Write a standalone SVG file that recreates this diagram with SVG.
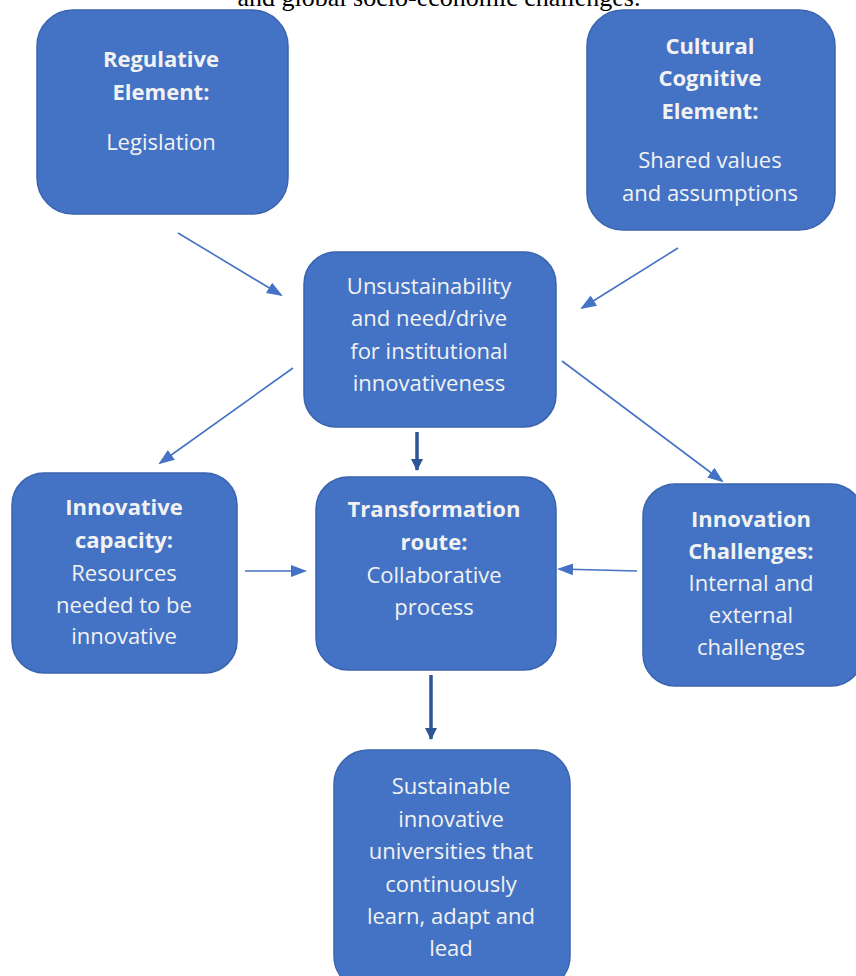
<svg xmlns="http://www.w3.org/2000/svg" width="856" height="976" viewBox="0 0 856 976">
<style>
.box{fill:#4472C4;stroke:#3A64AE;stroke-width:1.5}
.t{font-family:"Open Sans","Liberation Sans",sans-serif;font-size:22px;fill:#F2F2F2;text-anchor:middle}
.b{font-weight:bold}
.thin{stroke:#4472C4;stroke-width:1.6;fill:none}
.thick{stroke:#2F5597;stroke-width:3.5;fill:none}
</style>
<defs>
<marker id="ah2" viewBox="0 0 16 16" refX="14" refY="8" markerWidth="16" markerHeight="16" markerUnits="userSpaceOnUse" orient="auto"><path d="M0,2 L16,8 L0,14 z" fill="#4472C4"/></marker>
<marker id="ahd" viewBox="0 0 12 12" refX="11" refY="6" markerWidth="12" markerHeight="12" markerUnits="userSpaceOnUse" orient="auto"><path d="M0,0 L12,6 L0,12 z" fill="#2F5597"/></marker>
</defs>
<text x="439" y="6" font-family="Liberation Serif, serif" font-size="26" text-anchor="middle" fill="#000">and global socio-economic challenges.</text>
<g id="connectors">
<line class="thin" x1="178" y1="233" x2="281" y2="295" marker-end="url(#ah2)"/>
<line class="thin" x1="678" y1="248" x2="582" y2="308" marker-end="url(#ah2)"/>
<line class="thin" x1="293" y1="368" x2="160" y2="463" marker-end="url(#ah2)"/>
<line class="thin" x1="562" y1="361" x2="722" y2="481" marker-end="url(#ah2)"/>
<line class="thin" x1="245" y1="571" x2="305" y2="571" marker-end="url(#ah2)"/>
<line class="thin" x1="637" y1="571" x2="559" y2="569" marker-end="url(#ah2)"/>
<line class="thick" x1="417" y1="432" x2="417" y2="470" marker-end="url(#ahd)"/>
<line class="thick" x1="431" y1="675" x2="431" y2="739" marker-end="url(#ahd)"/>
</g>
<g id="regulative">
<rect class="box" x="37" y="10" width="251" height="204" rx="36"/>
<text class="t b" x="161" y="67">Regulative</text>
<text class="t b" x="161" y="100">Element:</text>
<text class="t" x="161" y="150">Legislation</text>
</g>
<g id="cultural">
<rect class="box" x="587" y="10" width="248" height="220" rx="36"/>
<text class="t b" x="710" y="54">Cultural</text>
<text class="t b" x="710" y="86">Cognitive</text>
<text class="t b" x="710" y="119">Element:</text>
<text class="t" x="710" y="168">Shared values</text>
<text class="t" x="710" y="201">and assumptions</text>
</g>
<g id="unsustainability">
<rect class="box" x="304" y="252" width="252" height="175" rx="32"/>
<text class="t" x="429" y="294">Unsustainability</text>
<text class="t" x="429" y="326">and need/drive</text>
<text class="t" x="429" y="359">for institutional</text>
<text class="t" x="429" y="391">innovativeness</text>
</g>
<g id="capacity">
<rect class="box" x="12" y="473" width="225" height="200" rx="32"/>
<text class="t b" x="124" y="515">Innovative</text>
<text class="t b" x="124" y="548">capacity:</text>
<text class="t" x="124" y="581">Resources</text>
<text class="t" x="124" y="613">needed to be</text>
<text class="t" x="124" y="644">innovative</text>
</g>
<g id="transformation">
<rect class="box" x="316" y="477" width="240" height="193" rx="32"/>
<text class="t b" x="434" y="517">Transformation</text>
<text class="t b" x="434" y="550">route:</text>
<text class="t" x="434" y="583">Collaborative</text>
<text class="t" x="434" y="615">process</text>
</g>
<g id="challenges">
<rect class="box" x="643" y="484" width="220" height="202" rx="32"/>
<text class="t b" x="751" y="527">Innovation</text>
<text class="t b" x="751" y="559">Challenges:</text>
<text class="t" x="751" y="591">Internal and</text>
<text class="t" x="751" y="623">external</text>
<text class="t" x="751" y="655">challenges</text>
</g>
<g id="sustainable">
<rect class="box" x="334" y="750" width="236" height="240" rx="34"/>
<text class="t" x="451" y="794">Sustainable</text>
<text class="t" x="451" y="827">innovative</text>
<text class="t" x="451" y="859">universities that</text>
<text class="t" x="451" y="892">continuously</text>
<text class="t" x="451" y="924">learn, adapt and</text>
<text class="t" x="451" y="956">lead</text>
</g>
</svg>
